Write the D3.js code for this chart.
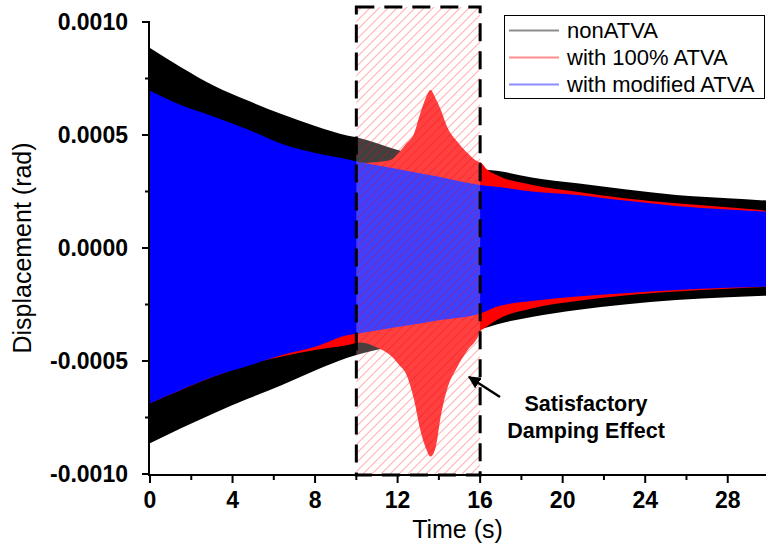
<!DOCTYPE html>
<html>
<head>
<meta charset="utf-8">
<script src="https://cdn.jsdelivr.net/npm/d3@7"></script>
<style>
  html, body { margin: 0; padding: 0; background: #fff; }
  svg { display: block; font-family: "Liberation Sans", Arial, sans-serif; }
</style>
</head>
<body>
<svg id="chart" width="766" height="552"></svg>
<script>
// Envelope of the displacement response for each case (time in s, displacement in rad)
const seriesNames = ["nonATVA", "with 100% ATVA", "with modified ATVA"];
const seriesColors = ["#000000", "#ff0000", "#0000ff"];

const nonTime  = [0, 1.5, 3.1, 4.8, 6.4, 8.0, 9.6, 10, 12, 14, 16, 16.8, 18.5, 20.7, 23, 25.5, 28, 30];
const nonUpper = [0.000885, 0.0008, 0.000718, 0.00065, 0.000592, 0.00054, 0.000497, 0.00049, 0.000434, 0.00039, 0.00035, 0.000342, 0.000312, 0.000286, 0.00026, 0.000235, 0.00022, 0.000209];
const nonLower = [-0.000864, -0.000798, -0.000731, -0.000665, -0.000606, -0.000542, -0.000484, -0.000473, -0.00043, -0.000395, -0.00036, -0.000338, -0.000305, -0.000274, -0.00025, -0.00023, -0.000218, -0.000211];

const fullTime  = [0, 1.5, 3.1, 4.8, 6.4, 8.0, 9.6, 10.2, 11.0, 11.65, 12.1, 12.4, 12.8, 13.1, 13.35, 13.6, 13.85, 14.1, 14.4, 14.9, 15.4, 15.9, 16.0, 16.3, 16.8, 18.5, 20.7, 23, 25.5, 28, 30];
const fullUpper = [0.00069, 0.000628, 0.000576, 0.000517, 0.000455, 0.000415, 0.000388, 0.000376, 0.00038, 0.000389, 0.000426, 0.00046, 0.000507, 0.000596, 0.00066, 0.000699, 0.00066, 0.00061, 0.000537, 0.00047, 0.000419, 0.000382, 0.00038, 0.00035, 0.000323, 0.00028, 0.000249, 0.00022, 0.000198, 0.00018, 0.000165];
const fullLower = [-0.000687, -0.000628, -0.000569, -0.000515, -0.00048, -0.000451, -0.000429, -0.000418, -0.00044, -0.000475, -0.00052, -0.000555, -0.000673, -0.000805, -0.00088, -0.000923, -0.00088, -0.00074, -0.000625, -0.000525, -0.000451, -0.000392, -0.00037, -0.00035, -0.000319, -0.000268, -0.000235, -0.00021, -0.000193, -0.00018, -0.000172];

const modTime  = [0, 1.5, 3.1, 4.8, 6.4, 8.0, 9.6, 10.1, 12, 14, 16, 16.8, 18.5, 20.7, 23, 25.5, 28, 30];
const modUpper = [0.000696, 0.000633, 0.000581, 0.000522, 0.00046, 0.00042, 0.000392, 0.000382, 0.00035, 0.000315, 0.000279, 0.000271, 0.00025, 0.000235, 0.00021, 0.000186, 0.00017, 0.00016];
const modLower = [-0.000687, -0.000628, -0.000569, -0.00052, -0.000473, -0.000437, -0.000385, -0.000378, -0.00035, -0.00032, -0.00029, -0.00026, -0.000235, -0.000215, -0.0002, -0.000186, -0.000176, -0.000171];

const xTicks = [0, 4, 8, 12, 16, 20, 24, 28];
const yTicks = [0.001, 0.0005, 0, -0.0005, -0.001];
const yTickLabels = ["0.0010", "0.0005", "0.0000", "-0.0005", "-0.0010"];
const highlightSpan = [10, 16];   // highlighted time span

const svg = d3.select("#chart");
const W = 766, H = 552;
const left = 149, bottom = 475;

const x = d3.scaleLinear().domain([0, 30]).range([150, 769]);
const y = d3.scaleLinear().domain([-0.001, 0.001]).range([474, 22]);

const defs = svg.append("defs");
defs.append("clipPath").attr("id", "plotClip")
  .append("rect").attr("x", left).attr("y", 0).attr("width", W - left).attr("height", bottom);

const hatch = defs.append("pattern").attr("id", "hatch")
  .attr("patternUnits", "userSpaceOnUse").attr("width", 9).attr("height", 9);
hatch.append("path").attr("d", "M-1,10 L10,-1 M-3,3 L3,-3 M6,12 L12,6")
  .attr("stroke", "#ff0000").attr("stroke-opacity", 0.3).attr("stroke-width", 1.1);

const plot = svg.append("g").attr("clip-path", "url(#plotClip)");

function envelope(times, upper, lower) {
  return times.map((t, i) => ({ t, hi: upper[i], lo: lower[i] }));
}
const area = d3.area()
  .x(d => x(d.t)).y0(d => y(d.lo)).y1(d => y(d.hi))
  .curve(d3.curveMonotoneX);

const series = [
  envelope(nonTime, nonUpper, nonLower),
  envelope(fullTime, fullUpper, fullLower),
  envelope(modTime, modUpper, modLower)
];
series.forEach((s, i) => {
  plot.append("path").datum(s).attr("d", area).attr("fill", seriesColors[i]);
});

// highlighted span: white veil plus red hatching
const bx0 = x(highlightSpan[0]), bx1 = x(highlightSpan[1]), by0 = 7;
svg.append("rect").attr("x", bx0).attr("y", by0).attr("width", bx1 - bx0).attr("height", bottom - by0)
  .attr("fill", "#ffffff").attr("fill-opacity", 0.25);
svg.append("rect").attr("x", bx0).attr("y", by0).attr("width", bx1 - bx0).attr("height", bottom - by0)
  .attr("fill", "url(#hatch)");
svg.append("rect").attr("x", bx0).attr("y", by0).attr("width", bx1 - bx0).attr("height", bottom - by0)
  .attr("fill", "none").attr("stroke", "#000").attr("stroke-width", 3)
  .attr("stroke-dasharray", "18,10");

// axes
const xAxisG = svg.append("g").attr("transform", `translate(0,${bottom})`);
xAxisG.append("line").attr("x1", left - 1).attr("x2", W).attr("y1", 0).attr("y2", 0)
  .attr("stroke", "#000").attr("stroke-width", 2);
const xMinor = d3.range(2, 30, 4);
xAxisG.selectAll(".xmaj").data(xTicks).enter().append("line")
  .attr("x1", d => x(d)).attr("x2", d => x(d)).attr("y1", 0).attr("y2", 8)
  .attr("stroke", "#000").attr("stroke-width", 2);
xAxisG.selectAll(".xmin").data(xMinor).enter().append("line")
  .attr("x1", d => x(d)).attr("x2", d => x(d)).attr("y1", 0).attr("y2", 5)
  .attr("stroke", "#000").attr("stroke-width", 2);
xAxisG.selectAll(".xlab").data(xTicks).enter().append("text")
  .attr("x", d => x(d)).attr("y", 33)
  .attr("text-anchor", "middle").attr("font-size", 23).attr("font-weight", "bold")
  .text(d => d);

const yAxisG = svg.append("g").attr("transform", `translate(${left},0)`);
yAxisG.append("line").attr("x1", 0).attr("x2", 0).attr("y1", y(0.001) - 1).attr("y2", bottom + 1)
  .attr("stroke", "#000").attr("stroke-width", 2);
const yMinor = [0.00075, 0.00025, -0.00025, -0.00075];
yAxisG.selectAll(".ymaj").data(yTicks).enter().append("line")
  .attr("x1", -7).attr("x2", 0).attr("y1", d => y(d)).attr("y2", d => y(d))
  .attr("stroke", "#000").attr("stroke-width", 2);
yAxisG.selectAll(".ymin").data(yMinor).enter().append("line")
  .attr("x1", -4).attr("x2", 0).attr("y1", d => y(d)).attr("y2", d => y(d))
  .attr("stroke", "#000").attr("stroke-width", 2);
yAxisG.selectAll(".ylab").data(yTicks).enter().append("text")
  .attr("x", -21).attr("y", d => y(d)).attr("dy", "0.36em")
  .attr("text-anchor", "end").attr("font-size", 23).attr("font-weight", "bold")
  .text((d, i) => yTickLabels[i]);

svg.append("text").attr("x", (left + W) / 2).attr("y", 538)
  .attr("text-anchor", "middle").attr("font-size", 25).text("Time (s)");
svg.append("text").attr("transform", `translate(31,248) rotate(-90)`)
  .attr("text-anchor", "middle").attr("font-size", 25).text("Displacement (rad)");

// legend
const lg = svg.append("g");
lg.append("rect").attr("x", 504.5).attr("y", 15.5).attr("width", 260).attr("height", 83)
  .attr("fill", "#fff").attr("stroke", "#000").attr("stroke-width", 1);
seriesNames.forEach((name, i) => {
  const cy = 30.5 + i * 27;
  lg.append("line").attr("x1", 509).attr("x2", 559).attr("y1", cy).attr("y2", cy)
    .attr("stroke", seriesColors[i]).attr("stroke-opacity", 0.45).attr("stroke-width", 2);
  lg.append("text").attr("x", 567).attr("y", cy).attr("dy", "0.36em")
    .attr("font-size", 22).text(name);
});

// annotation
defs.append("marker").attr("id", "arrowHead").attr("viewBox", "0 0 10 10")
  .attr("refX", 9).attr("refY", 5).attr("markerWidth", 5).attr("markerHeight", 5)
  .attr("markerUnits", "strokeWidth").attr("orient", "auto")
  .append("path").attr("d", "M0,0 L10,5 L0,10 Z").attr("fill", "#000");
svg.append("line").attr("x1", 500).attr("y1", 397).attr("x2", 469).attr("y2", 377)
  .attr("stroke", "#000").attr("stroke-width", 2.5).attr("marker-end", "url(#arrowHead)");
svg.append("text").attr("x", 586).attr("y", 411).attr("text-anchor", "middle")
  .attr("font-size", 21.5).attr("font-weight", "bold").text("Satisfactory");
svg.append("text").attr("x", 586).attr("y", 438).attr("text-anchor", "middle")
  .attr("font-size", 21.5).attr("font-weight", "bold").text("Damping Effect");
</script>
</body>
</html>
